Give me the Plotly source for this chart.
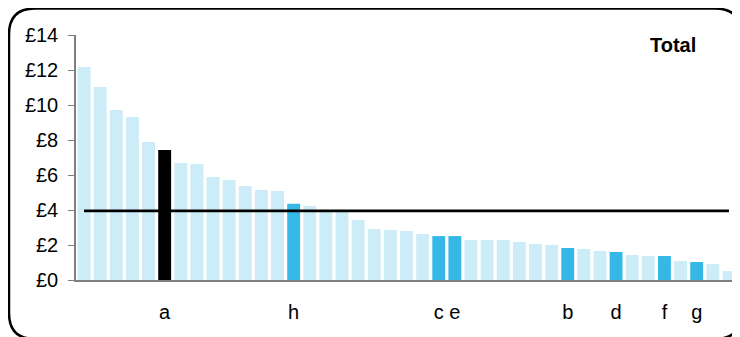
import plotly.graph_objects as go

# ---- data ----
values = [12.17, 11.03, 9.71, 9.31, 7.89, 7.43, 6.69, 6.63, 5.89, 5.71,
          5.37, 5.14, 5.09, 4.36, 4.23, 3.92, 3.90, 3.43, 2.91, 2.86,
          2.80, 2.63, 2.51, 2.51, 2.29, 2.29, 2.29, 2.17, 2.06, 2.00,
          1.83, 1.77, 1.66, 1.60, 1.43, 1.37, 1.37, 1.09, 1.03, 0.91, 0.51]
labels = ["", "", "", "", "", "a", "", "", "", "",
          "", "", "", "h", "", "", "", "", "", "",
          "", "", "c", "e", "", "", "", "", "", "",
          "b", "", "", "d", "", "", "f", "", "g", "", ""]
# role: 0 = other, 1 = highlighted, 2 = key
roles = [0, 0, 0, 0, 0, 2, 0, 0, 0, 0,
         0, 0, 0, 1, 0, 0, 0, 0, 0, 0,
         0, 0, 1, 1, 0, 0, 0, 0, 0, 0,
         1, 0, 0, 1, 0, 0, 1, 0, 1, 0, 0]
average = 3.95
y_ticks = [0, 2, 4, 6, 8, 10, 12, 14]
y_tick_text = ["£0", "£2", "£4", "£6", "£8", "£10", "£12", "£14"]
title_text = "Total"

role_colors = {0: "#CCECF8", 1: "#35B8E6", 2: "#000000"}
colors = [role_colors[r] for r in roles]
xs = list(range(len(values)))

# the page body adds an 8px offset; positions below are in screenshot pixels
OFF = 8
W, H = 740, 337
L, T = 76 - OFF, 35 - OFF
R = W - (737 - OFF)
B = H - (280 - OFF)
PW, PH = W - L - R, H - T - B

def px(x):
    return (x - OFF - L) / PW

def py(y):
    return (H - B - (y - OFF)) / PH

fig = go.Figure()
fig.add_trace(go.Bar(x=xs, y=values, marker=dict(color=colors, line=dict(width=0)),
                     hoverinfo="y", showlegend=False))
fig.add_trace(go.Scatter(x=xs, y=[average] * len(xs), mode="lines",
                         line=dict(color="#000000", width=2.6),
                         hoverinfo="skip", showlegend=False))

# rounded frame around the whole chart (screenshot pixel positions -> paper coords)
x0, x1, y0, y1, rr = 9, 741, 8.5, 339, 26
path = (f"M {px(x0 + rr)} {py(y0)} L {px(x1 - rr)} {py(y0)} "
        f"Q {px(x1)} {py(y0)} {px(x1)} {py(y0 + rr)} "
        f"L {px(x1)} {py(y1 - rr)} Q {px(x1)} {py(y1)} {px(x1 - rr)} {py(y1)} "
        f"L {px(x0 + rr)} {py(y1)} Q {px(x0)} {py(y1)} {px(x0)} {py(y1 - rr)} "
        f"L {px(x0)} {py(y0 + rr)} Q {px(x0)} {py(y0)} {px(x0 + rr)} {py(y0)} Z")
fig.add_shape(type="path", path=path, xref="paper", yref="paper",
              line=dict(color="#000000", width=2.5), layer="above")

fig.add_annotation(text=f"<b>{title_text}</b>", xref="paper", yref="paper",
                   x=px(698), y=py(45), xanchor="right", yanchor="middle",
                   showarrow=False, font=dict(size=20, color="#000000"))

fig.update_layout(
    width=W, height=H,
    margin=dict(l=L, r=R, t=T, b=B),
    paper_bgcolor="#FFFFFF", plot_bgcolor="#FFFFFF",
    font=dict(family="Liberation Sans, Arial, sans-serif", size=20, color="#000000"),
    bargap=0.2,
    xaxis=dict(range=[-0.5, len(values) - 0.5], tickmode="array",
               tickvals=[i for i, t in enumerate(labels) if t],
               ticktext=[t for t in labels if t],
               showgrid=False, zeroline=False, showline=True,
               linecolor="#7F7F7F", linewidth=1.5, ticks="",
               ticklabelstandoff=13, tickfont=dict(size=20)),
    yaxis=dict(range=[0, 14], tickmode="array", tickvals=y_ticks,
               ticktext=y_tick_text, showgrid=False, zeroline=False,
               showline=True, linecolor="#7F7F7F", linewidth=1.5,
               ticks="outside", ticklen=6, tickcolor="#7F7F7F",
               ticklabelstandoff=6, tickfont=dict(size=20)),
)

fig.write_html("out.html")
